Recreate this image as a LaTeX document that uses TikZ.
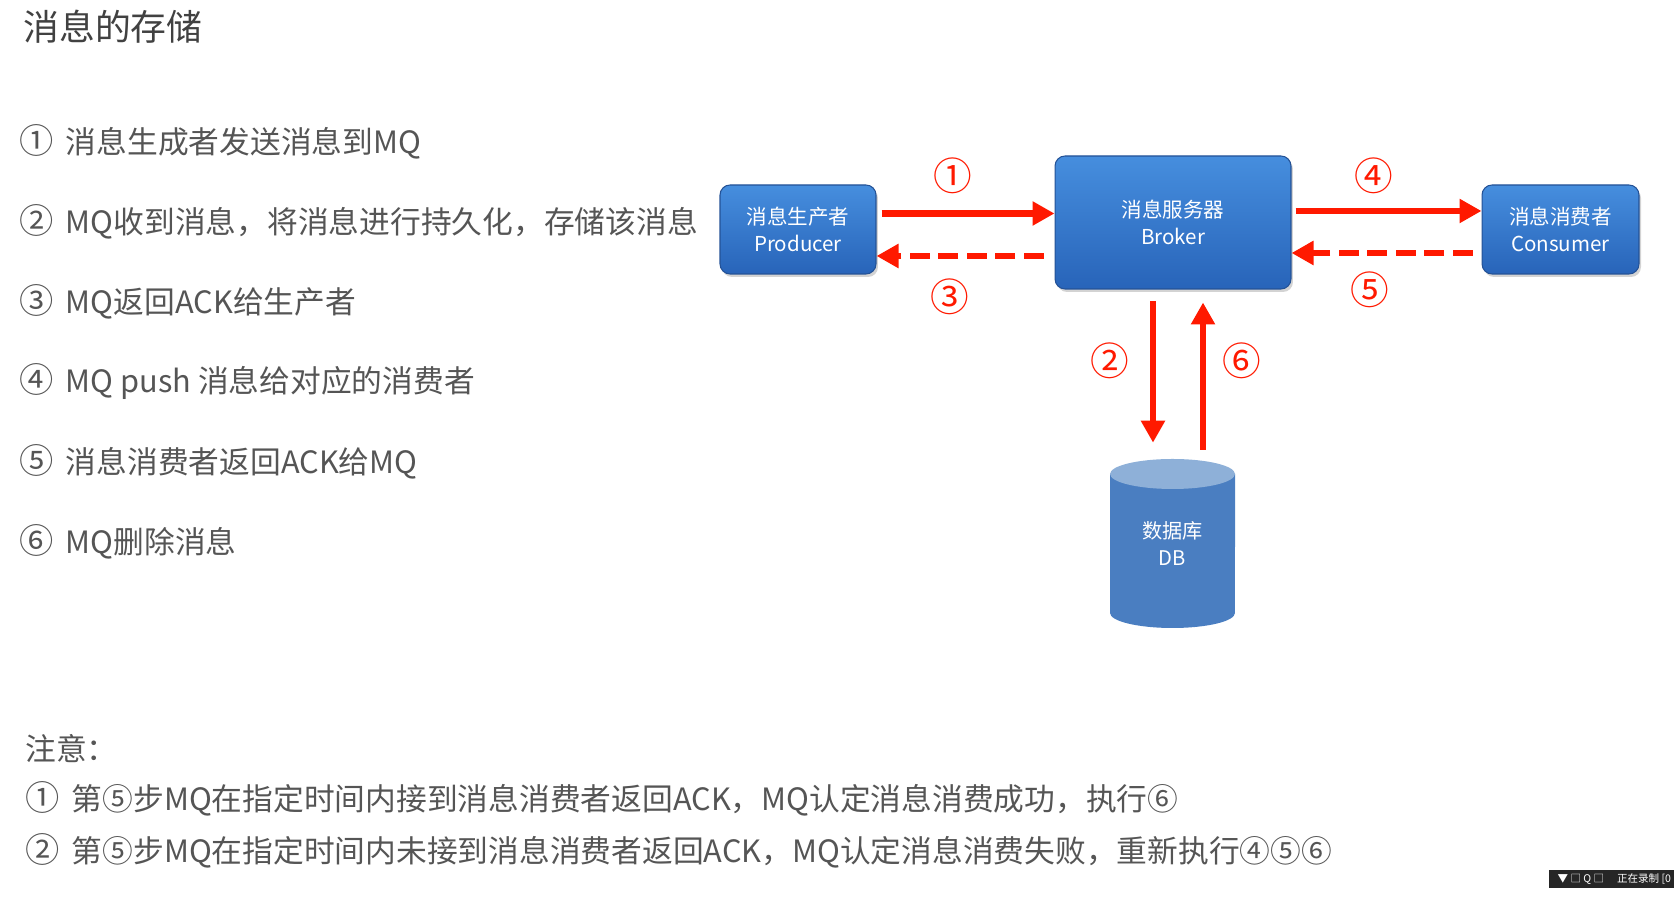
\documentclass[tikz,border=0pt]{standalone}
\usepackage{fontspec}
\setmainfont{Noto Sans CJK SC}
\usetikzlibrary{arrows.meta,shadows}
\definecolor{mqred}{RGB}{255,25,0}
\definecolor{mqtxt}{RGB}{85,85,85}
\definecolor{mqhead}{RGB}{65,65,65}
\definecolor{mqtop}{RGB}{70,142,222}
\definecolor{mqbot}{RGB}{40,100,185}
\definecolor{mqedge}{RGB}{36,82,150}
\definecolor{dbside}{RGB}{74,126,193}
\definecolor{dbcap}{RGB}{142,176,216}
\tikzset{
  mqbox/.style={rounded corners=0.2cm, top color=mqtop, bottom color=mqbot, draw=mqedge, line width=0.6pt,
    text=white, align=center, font=\fontsize{11.7}{15.3}\selectfont,
    drop shadow={opacity=0.35, shadow xshift=0.04cm, shadow yshift=-0.06cm}},
  mqpush/.style={line width=0.13cm, draw=mqred, line cap=butt, -{Triangle[length=0.44cm,width=0.46cm]}},
  mqack/.style={mqpush, dash pattern=on 0.4cm off 0.17cm},
  mqnum/.style={text=mqred, font=\fontsize{22}{22}\selectfont},
  mqline/.style={anchor=west, text=mqtxt, inner sep=0pt, font=\fontsize{17.5}{20}\selectfont},
  mqdb/.style={text=white, align=center, minimum width=2.5cm, minimum height=3.38cm, font=\fontsize{11.5}{15}\selectfont},
}
\newcommand{\stepno}[1]{{\fontsize{19.5}{20}\selectfont #1}\hspace{0.4em}}

\begin{document}
\begin{tikzpicture}[x=0.02cm, y=0.02cm]
\useasboundingbox (0,0) rectangle (1674,905);
% heading and steps
\node[mqline, text=mqhead, font=\fontsize{20.4}{22}\selectfont] (title) at (23,878) {消息的存储};
\node[mqline] (s1) at (19,763) {\stepno{①}消息生成者发送消息到MQ};
\node[mqline] (s2) at (19,683) {\stepno{②}MQ收到消息，将消息进行持久化，存储该消息};
\node[mqline] (s3) at (19,603) {\stepno{③}MQ返回ACK给生产者};
\node[mqline] (s4) at (19,523) {\stepno{④}MQ push 消息给对应的消费者};
\node[mqline] (s5) at (19,443) {\stepno{⑤}消息消费者返回ACK给MQ};
\node[mqline] (s6) at (19,363) {\stepno{⑥}MQ删除消息};
% remarks
\node[mqline] (note) at (25,156) {注意：};
\node[mqline] (n1) at (25,106) {\stepno{①}第⑤步MQ在指定时间内接到消息消费者返回ACK，MQ认定消息消费成功，执行⑥};
\node[mqline] (n2) at (25,54) {\stepno{②}第⑤步MQ在指定时间内未接到消息消费者返回ACK，MQ认定消息消费失败，重新执行④⑤⑥};

% the three parties
\node[mqbox, minimum width=3.12cm, minimum height=1.78cm] (prod) at (798,675.5) {消息生产者\\Producer};
\node[mqbox, minimum width=4.72cm, minimum height=2.66cm] (brok) at (1173,682.5) {消息服务器\\Broker};
\node[mqbox, minimum width=3.14cm, minimum height=1.78cm] (cons) at (1560.5,675.5) {消息消费者\\Consumer};

% database
\fill[dbside] (1110,431) -- (1110,292) arc[start angle=180, end angle=360, x radius=1.25cm, y radius=0.3cm] -- (1235,431) -- cycle;
\fill[dbcap] (1172.5,431) ellipse[x radius=1.25cm, y radius=0.3cm];
\node[mqdb] (db) at (1172.5,361.5) {数据库\\DB};

% message flow
\draw[mqpush, shorten <=0.1cm] (prod.east |- 0,691.5) -- (brok.west |- 0,691.5);
\draw[mqack, shorten <=0.22cm] (brok.west |- 0,649) -- (prod.east |- 0,649);
\draw[mqpush, shorten <=0.08cm] (brok.east |- 0,694) -- (cons.west |- 0,694);
\draw[mqack, shorten <=0.18cm] (cons.west |- 0,652) -- (brok.east |- 0,652);
\draw[mqpush, shorten <=0.24cm, shorten >=0.32cm] (brok.south -| 1153,0) -- (db.north -| 1153,0);
\draw[mqpush, shorten <=0.18cm, shorten >=0.26cm] (db.north -| 1203,0) -- (brok.south -| 1203,0);
\node[mqnum] (l1) at (953,729) {①};
\node[mqnum] (l3) at (950,608) {③};
\node[mqnum] (l4) at (1374,729) {④};
\node[mqnum] (l5) at (1370,615) {⑤};
\node[mqnum] (l2) at (1110,544) {②};
\node[mqnum] (l6) at (1242,544) {⑥};

% recorder bar
\node[fill=black!85, text=white, anchor=south west, inner sep=1pt, minimum width=2.6cm, minimum height=0.36cm,
  font=\fontsize{6}{6}\selectfont] (rec) at (1549,17) {▼ □ Q □ \quad 正在录制 [0};
\end{tikzpicture}
\end{document}
